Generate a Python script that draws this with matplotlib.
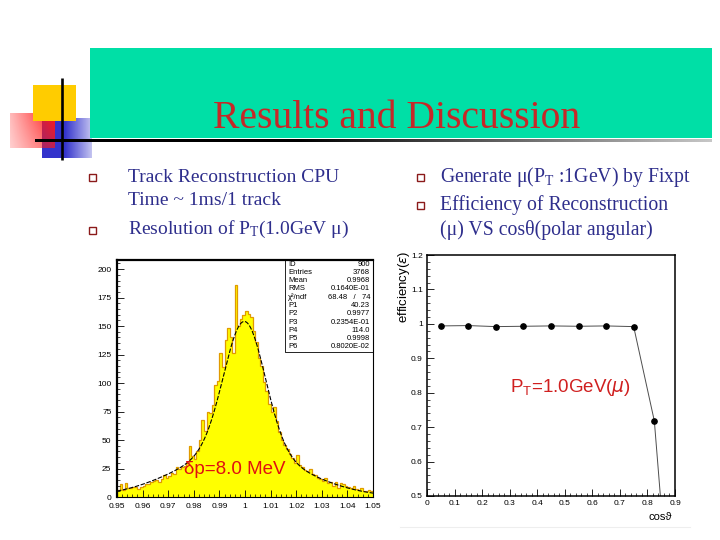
import numpy as np
import matplotlib.pyplot as plt
from matplotlib.patches import Rectangle
from matplotlib.ticker import MultipleLocator, FixedLocator, FixedFormatter

W, H = 720, 540

# ---- histogram of Pt (1.0 GeV mu), counts per 0.001 bin from 0.95 to 1.05
hist_lo, hist_hi = 0.95, 1.05
hist_counts = [
    6, 11, 6, 12, 8, 8, 9, 9, 7, 9,
    10, 11, 11, 13, 14, 15, 13, 16, 19, 17,
    18, 21, 20, 26, 25, 26, 27, 30, 45, 36,
    33, 40, 50, 68, 58, 75, 74, 81, 98, 102,
    126, 114, 138, 148, 140, 126, 186, 150, 156, 160,
    163, 161, 158, 146, 136, 122, 115, 101, 93, 82,
    75, 79, 67, 57, 50, 46, 42, 38, 34, 30,
    37, 28, 26, 24, 23, 25, 20, 19, 17, 16,
    14, 17, 12, 13, 10, 13, 8, 12, 11, 10,
    9, 8, 10, 7, 6, 8, 5, 5, 6, 5,
]
# double gaussian fit parameters as printed in the stats box
fit_p1, fit_p2, fit_p3 = 40.23, 0.9977, 0.02354
fit_p4, fit_p5, fit_p6 = 114.0, 0.9998, 0.008020

stats_labels = ["ID", "Entries", "Mean", "RMS", "χ²/ndf",
                "P1", "P2", "P3", "P4", "P5", "P6"]
stats_values = ["900", "3768", "0.9968", "0.1640E-01", "68.48   /   74",
                "40.23", "0.9977", "0.2354E-01", "114.0", "0.9998", "0.8020E-02"]

hist_xticks = [0.95, 0.96, 0.97, 0.98, 0.99, 1.0, 1.01, 1.02, 1.03, 1.04, 1.05]
hist_xlabels = ["0.95", "0.96", "0.97", "0.98", "0.99", "1",
                "1.01", "1.02", "1.03", "1.04", "1.05"]
hist_yticks = [0, 25, 50, 75, 100, 125, 150, 175, 200]

# ---- efficiency vs cos(theta)
cos_theta = [0.05, 0.15, 0.25, 0.35, 0.45, 0.55, 0.65, 0.75, 0.825, 0.85]
efficiency = [0.994, 0.995, 0.992, 0.993, 0.994, 0.993, 0.994, 0.992, 0.718, 0.47]
eff_xticks = [0, 0.1, 0.2, 0.3, 0.4, 0.5, 0.6, 0.7, 0.8, 0.9]
eff_xlabels = ["0", "0.1", "0.2", "0.3", "0.4", "0.5", "0.6", "0.7", "0.8", "0.9"]
eff_yticks = [0.5, 0.6, 0.7, 0.8, 0.9, 1.0, 1.1, 1.2]
eff_ylabels = ["0.5", "0.6", "0.7", "0.8", "0.9", "1", "1.1", "1.2"]

# ---- slide text
title = "Results and Discussion"
left_lines = ["Track Reconstruction CPU",
              "Time ~ 1ms/1 track",
              r"Resolution of P$\mathregular{_T}$(1.0GeV μ)"]
right_lines = [r"Generate μ(P$\mathregular{_T}$ :1GeV) by Fixpt",
               "Efficiency of Reconstruction",
               "(μ) VS cosθ(polar angular)"]

SERIF = "Liberation Serif"
SANS = "Liberation Sans"
NAVY = "#2E2E8C"
TEAL = "#00DFA6"

fig = plt.figure(figsize=(W / 100, H / 100), dpi=100)


def box(x0, y0, x1, y1):
    # pixel box (top-left origin) -> figure fraction rect
    return [x0 / W, 1 - y1 / H, (x1 - x0) / W, (y1 - y0) / H]


# background layer in pixel coordinates
bg = fig.add_axes([0, 0, 1, 1], zorder=0)
bg.axis("off")
bg.add_patch(Rectangle((90, 48), 622, 90, color=TEAL, lw=0))
bg.add_patch(Rectangle((33, 85), 43, 36, color="#FFCC00", lw=0))

# blue square, fading on its right side
blue = np.zeros((20, 50, 4))
blue[..., 0], blue[..., 1], blue[..., 2] = 0.2, 0.2, 0.8
blue[..., 3] = np.clip(np.linspace(1.6, 0.3, 50), 0, 1)[None, :]
bg.imshow(blue, extent=(42, 92, 158, 118), aspect="auto", interpolation="bilinear")

# red square, fading towards the left / bottom
red = np.zeros((20, 45, 4))
red[..., 0], red[..., 1], red[..., 2] = 1.0, 0.1, 0.1
red[..., 3] = (np.linspace(0.3, 1.0, 45)[None, :] * np.linspace(1.0, 0.7, 20)[:, None])
bg.imshow(red, extent=(10, 55, 148, 113), aspect="auto", interpolation="bilinear")

# horizontal rule, black to light grey
rule = np.ones((1, 300, 3)) * np.clip(np.linspace(-0.5, 0.78, 300), 0, 1)[None, :, None]
bg.imshow(rule, extent=(35, 712, 142, 139), aspect="auto", interpolation="bilinear")
bg.plot([62, 62], [78, 160], color="black", lw=1.9, solid_capstyle="butt")
bg.plot([400, 690], [527, 527], color="#EEEEEE", lw=0.8)
bg.set_xlim(0, W)
bg.set_ylim(H, 0)

# title and bullets
fig.text(397 / W, 1 - 128 / H, title, ha="center", va="baseline",
         fontsize=28.5, family=SERIF, color="#C62828")
for txt, yb in zip(left_lines, [182, 205, 234]):
    fig.text(128 / W, 1 - yb / H, txt, fontsize=14, family=SERIF,
             color=NAVY, va="baseline")
for txt, yb in zip(right_lines, [182, 210, 235]):
    fig.text(440 / W, 1 - yb / H, txt, fontsize=14.2, family=SERIF,
             color=NAVY, va="baseline")
for bx, by in [(92, 177), (92, 230), (420, 177), (420, 205)]:
    bg.add_patch(Rectangle((bx - 3.5, by - 3.5), 7, 7, facecolor="white",
                           edgecolor="#8B1A1A", lw=1.0))


def style_axes(ax, pad=4):
    ax.tick_params(which="both", direction="in", labelsize=6, colors="black",
                   top=False, right=False)
    ax.tick_params(which="major", length=5, width=0.6, pad=pad)
    ax.tick_params(which="minor", length=2.5, width=0.5)
    for lab in ax.get_xticklabels() + ax.get_yticklabels():
        lab.set_family(SANS)


# ---- left: Pt histogram
ax1 = fig.add_axes(box(117, 260, 373, 497), zorder=1)
edges = np.linspace(hist_lo, hist_hi, len(hist_counts) + 1)
ax1.stairs(hist_counts, edges, fill=True, color="#FFFF00", lw=0)
ax1.stairs(hist_counts, edges, color="#E09A00", lw=0.9)
xf = np.linspace(hist_lo, hist_hi, 400)
yf = (fit_p1 * np.exp(-0.5 * ((xf - fit_p2) / fit_p3) ** 2)
      + fit_p4 * np.exp(-0.5 * ((xf - fit_p5) / fit_p6) ** 2))
ax1.plot(xf, yf, color="black", lw=0.8, ls=(0, (4, 1.5)))
ax1.set_xlim(hist_lo, hist_hi)
ax1.set_ylim(0, 208)
ax1.xaxis.set_major_locator(FixedLocator(hist_xticks))
ax1.xaxis.set_major_formatter(FixedFormatter(hist_xlabels))
ax1.xaxis.set_minor_locator(MultipleLocator(0.002))
ax1.set_yticks(hist_yticks)
ax1.yaxis.set_minor_locator(MultipleLocator(5))
style_axes(ax1)
for side, lw in [("left", 1.6), ("top", 1.6), ("right", 0.8), ("bottom", 0.8)]:
    ax1.spines[side].set_linewidth(lw)

# ---- right: efficiency vs cos(theta)
ax2 = fig.add_axes(box(427, 255, 675, 496), zorder=1)
ax2.plot(cos_theta, efficiency, color="0.3", lw=0.7, marker="o", ms=3.8,
         mfc="black", mec="black")
ax2.set_xlim(0, 0.9)
ax2.set_ylim(0.5, 1.2)
ax2.xaxis.set_major_locator(FixedLocator(eff_xticks))
ax2.xaxis.set_major_formatter(FixedFormatter(eff_xlabels))
ax2.xaxis.set_minor_locator(MultipleLocator(0.02))
ax2.yaxis.set_major_locator(FixedLocator(eff_yticks))
ax2.yaxis.set_major_formatter(FixedFormatter(eff_ylabels))
ax2.yaxis.set_minor_locator(MultipleLocator(0.02))
style_axes(ax2, pad=3)
for sp in ax2.spines.values():
    sp.set_linewidth(1.1)

# ---- overlay: stats box and annotations (pixel coordinates)
ov = fig.add_axes([0, 0, 1, 1], zorder=5)
ov.axis("off")
ov.set_xlim(0, W)
ov.set_ylim(H, 0)
row_y = np.linspace(264, 347, len(stats_labels))
for lab, val, yy in zip(stats_labels, stats_values, row_y):
    ov.text(288, yy, lab, fontsize=5.5, family=SANS, va="center", ha="left")
    ov.text(370, yy, val, fontsize=5.5, family=SANS, va="center", ha="right")
ov.plot([285, 285, 373], [260, 352, 352], color="black", lw=0.6)

ov.text(184, 470, "δp=8.0 MeV", fontsize=13.5, family=SANS, color="#E01010",
        va="center", ha="left")
ov.text(510, 388, r"P$\mathregular{_T}$=1.0GeV($\mu$)", fontsize=13.5,
        family=SANS, color="#D02020", va="center", ha="left")
ov.text(404, 251, r"efficiency($\varepsilon$)", fontsize=9.5, family=SANS,
        rotation=90, ha="center", va="top")
ov.text(660, 517, "cosϑ", fontsize=8, family=SANS, ha="center", va="center")

fig.savefig("out.png", dpi=100)
